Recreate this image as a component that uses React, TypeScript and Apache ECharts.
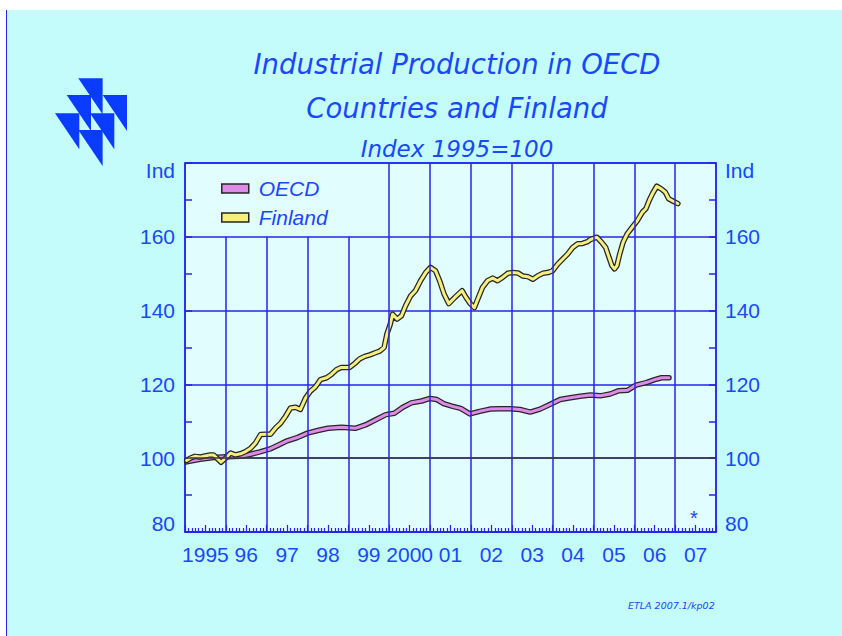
import React, { useEffect, useRef } from "react";
import * as echarts from "echarts";

// ---- data ----
const yearLabels = ["1995", "96", "97", "98", "99", "2000", "01", "02", "03", "04", "05", "06", "07"];
const monthsPerYear = 12;
const yMin = 80;
const yMax = 180;
const yStep = 20;
const refLevel = 100;
const legendBoxUntilMonth = 48;
const legendBoxBottom = 160;

// [months since Jan 1995, index (1995=100)]
const oecd: [number, number][] = [
  [0.5, 99.0], [4.4, 99.7], [8.4, 100.2], [12.3, 100.4], [16.2, 100.5], [19, 101.0], [22, 101.7],
  [25, 102.5], [27.5, 103.6], [30, 104.7], [33, 105.6], [36, 106.8], [39, 107.5], [42, 108.1],
  [46, 108.4], [50, 108.1], [53, 109.0], [56, 110.4], [59, 111.8], [61.5, 112.2], [64, 113.8],
  [66.5, 115.0], [69.5, 115.5], [72, 116.2], [74, 115.9], [76, 114.8], [78.4, 114.1], [81, 113.5],
  [83.7, 112.0], [86.6, 112.7], [89.6, 113.3], [92.5, 113.4], [95.5, 113.4], [98.4, 113.2],
  [101.4, 112.5], [104.3, 113.3], [107.3, 114.6], [110.2, 115.9], [113.2, 116.4], [116.1, 116.8],
  [119.1, 117.1], [122, 116.9], [124.9, 117.4], [127.5, 118.3], [130, 118.4], [132.5, 119.8],
  [135.5, 120.5], [138, 121.3], [140, 121.8], [142.2, 121.8],
];

const finland: [number, number][] = [
  [0.5, 99.4], [1.5, 100], [2.9, 100.5], [4.4, 100.3], [5.9, 100.6], [7.4, 100.9], [8.4, 100.9],
  [9.4, 100.0], [10.6, 98.9], [11.9, 100.0], [13.4, 101.4], [14.8, 100.9], [16.3, 101.2],
  [17.8, 101.8], [19.3, 102.7], [20.7, 104.1], [22.2, 106.4], [23.7, 106.5], [25.1, 106.5],
  [26.6, 108.2], [28.1, 109.5], [29.5, 111.3], [31, 113.6], [32.5, 113.8], [33.9, 113.2],
  [35.4, 116.3], [36.8, 118.1], [38.3, 119.3], [39.8, 121.3], [41.6, 121.8], [43, 122.7],
  [44.5, 124], [45.9, 124.6], [48.4, 124.6], [49.9, 125.7], [51.3, 126.9], [52.8, 127.6],
  [54.3, 128], [55.7, 128.5], [57.2, 129], [58.5, 130], [59.3, 133.6], [60.3, 136.3], [61, 139],
  [62.3, 137.7], [63.6, 138.6], [64.8, 141.3], [66.3, 144], [67.7, 145.4], [69.2, 148.1],
  [70.7, 150.3], [72.1, 151.7], [73.6, 150.8], [74.8, 148.1], [76.1, 144.5], [77.5, 141.9],
  [79.2, 143.5], [81.4, 145.4], [82.6, 143.5], [83.8, 141.9], [85, 140.8], [86, 143.1],
  [87.4, 146.3], [88.9, 148.1], [90.4, 148.8], [91.8, 148.1], [93.3, 149], [94.8, 150.1],
  [96.3, 150.3], [97.8, 150.2], [99.2, 149.4], [100.7, 149.2], [102.2, 148.5], [103.6, 149.4],
  [105.1, 150.1], [106.6, 150.3], [108, 150.8], [109.5, 152.6], [111, 154], [112.4, 155.3],
  [113.9, 157.1], [115.4, 158.1], [116.8, 158.2], [118.3, 158.7], [119, 159.2], [121, 159.9],
  [122.4, 158.5], [123.6, 157.1], [124.4, 154.9], [125.4, 152.2], [126.2, 151.3], [126.9, 152.2],
  [127.7, 155.3], [128.7, 158.5], [129.9, 160.8], [131.4, 162.6], [132.9, 164.4], [134.4, 166.7],
  [135.4, 167.6], [136.4, 169.9], [137.4, 171.8], [138.6, 173.7], [139.9, 173.0], [141.1, 172.1],
  [142.1, 170.3], [143.3, 169.7], [144.8, 169.0],
];

// ---- styles ----
const TEXT_BLUE = "#1848ff";
const LINE_BLUE = "#2424ee";
const OUTER_BG = "#c4fbfb";
const PLOT_BG = "#e2fdfd";
const OECD_COLOR = "#e08ae8";
const FIN_COLOR = "#f6ee7e";
const OUTLINE = "#262626";
const NUM_FONT = "'Liberation Sans', Arial, sans-serif";
const TITLE_FONT = "'DejaVu Sans', sans-serif";

export default function App() {
  const ref = useRef<HTMLDivElement>(null);

  useEffect(() => {
    if (!ref.current) return;
    const chart = echarts.init(ref.current, null, { renderer: "svg" });
    const totalMonths = yearLabels.length * monthsPerYear;

    const verticalGrid = yearLabels.slice(1).map((_, i) => {
      const m = (i + 1) * monthsPerYear;
      const top = m <= legendBoxUntilMonth ? legendBoxBottom : yMax;
      return [{ coord: [m, yMin] }, { coord: [m, top] }];
    });

    const yLabelFormatter = (v: number) => {
      if (v === yMax) return "{top|Ind}";
      if (v === yMin) return "{bot|" + v + "}";
      return String(v);
    };
    const richY = {
      top: { fontSize: 21, color: TEXT_BLUE, fontFamily: NUM_FONT, padding: [14, 0, 0, 0] },
      bot: { fontSize: 21, color: TEXT_BLUE, fontFamily: NUM_FONT, padding: [0, 0, 17, 0] },
    };

    const yAxisBase = {
      type: "value",
      min: yMin,
      max: yMax,
      interval: yStep,
      axisLine: { show: true, lineStyle: { color: LINE_BLUE, width: 1.5 } },
      axisTick: { show: true, inside: true, length: 7, lineStyle: { color: LINE_BLUE, width: 1.5 } },
      minorTick: { show: true, splitNumber: 2, length: 7, lineStyle: { color: LINE_BLUE, width: 1.5 } },
      axisLabel: {
        fontSize: 21,
        color: TEXT_BLUE,
        fontFamily: NUM_FONT,
        formatter: yLabelFormatter,
        rich: richY,
      },
    };

    const triangles = [
      [78.3, 78.3], [66.7, 95], [102.7, 95], [55, 113.3], [90, 113.3], [78.3, 130],
    ].map(([x, y]) => ({
      type: "polygon",
      shape: { points: [[x, y], [x + 24.3, y], [x + 24.3, y + 36]] },
      style: { fill: "#0a3cff" },
    }));

    chart.setOption({
      animation: false,
      backgroundColor: "transparent",
      title: [
        {
          text: "Industrial Production in OECD",
          left: 452,
          top: 45,
          textAlign: "center",
          textStyle: { fontSize: 27.5, fontStyle: "italic", fontWeight: "normal", color: TEXT_BLUE, fontFamily: TITLE_FONT },
        },
        {
          text: "Countries and Finland",
          left: 452,
          top: 89,
          textAlign: "center",
          textStyle: { fontSize: 27.5, fontStyle: "italic", fontWeight: "normal", color: TEXT_BLUE, fontFamily: TITLE_FONT },
        },
        {
          text: "Index 1995=100",
          left: 452,
          top: 132,
          textAlign: "center",
          textStyle: { fontSize: 23, fontStyle: "italic", fontWeight: "normal", color: TEXT_BLUE, fontFamily: TITLE_FONT },
        },
      ],
      legend: {
        data: [
          { name: "OECD", itemStyle: { color: OECD_COLOR, borderColor: OUTLINE, borderWidth: 1.5 } },
          { name: "Finland", itemStyle: { color: FIN_COLOR, borderColor: OUTLINE, borderWidth: 1.5 } },
        ],
        orient: "vertical",
        left: 216,
        top: 173,
        icon: "rect",
        itemWidth: 27,
        itemHeight: 9,
        itemGap: 8,
        textStyle: {
          fontSize: 21,
          lineHeight: 21,
          fontStyle: "italic",
          color: TEXT_BLUE,
          fontFamily: NUM_FONT,
          padding: [0, 0, 0, 5],
        },
      },
      grid: {
        left: 185,
        top: 163,
        width: 531,
        height: 369,
        show: true,
        backgroundColor: PLOT_BG,
        borderColor: LINE_BLUE,
        borderWidth: 1.5,
      },
      xAxis: [
        {
          type: "category",
          data: yearLabels,
          boundaryGap: true,
          position: "bottom",
          axisLine: { show: true, lineStyle: { color: LINE_BLUE, width: 1.5 } },
          axisTick: { show: false },
          splitLine: { show: false },
          axisLabel: { interval: 0, fontSize: 21, color: TEXT_BLUE, fontFamily: NUM_FONT, margin: 12 },
        },
        {
          type: "value",
          min: 0,
          max: totalMonths,
          interval: monthsPerYear / 2,
          position: "bottom",
          axisLine: { show: false },
          axisLabel: { show: false },
          axisTick: { show: true, inside: true, length: 7, lineStyle: { color: LINE_BLUE, width: 1.2 } },
          minorTick: { show: true, splitNumber: 6, length: 4, lineStyle: { color: LINE_BLUE, width: 1.2 } },
          splitLine: { show: false },
        },
      ],
      yAxis: [
        {
          ...yAxisBase,
          position: "left",
          splitLine: { show: true, lineStyle: { color: LINE_BLUE, width: 1.5 } },
          axisLabel: { ...yAxisBase.axisLabel, margin: 10 },
        },
        {
          ...yAxisBase,
          position: "right",
          splitLine: { show: false },
          axisLabel: { ...yAxisBase.axisLabel, margin: 9 },
        },
      ],
      series: [
        {
          name: "grid",
          type: "line",
          xAxisIndex: 1,
          yAxisIndex: 0,
          data: oecd,
          showSymbol: false,
          silent: true,
          lineStyle: { opacity: 0, width: 0 },
          z: 2,
          markLine: {
            silent: true,
            symbol: "none",
            label: { show: false },
            animation: false,
            data: [
              ...verticalGrid.map((d) => d.map((p) => ({ ...p, lineStyle: { color: LINE_BLUE, width: 1.5, type: "solid" } }))),
              { yAxis: refLevel, lineStyle: { color: "#3a3a3a", width: 1.6, type: "solid" } },
            ],
          },
        },
        {
          name: "OECD-outline",
          type: "line",
          xAxisIndex: 1,
          data: oecd,
          showSymbol: false,
          silent: true,
          lineStyle: { color: OUTLINE, width: 5.5, join: "round", cap: "round" },
          z: 3,
        },
        {
          name: "OECD",
          type: "line",
          xAxisIndex: 1,
          data: oecd,
          showSymbol: false,
          color: OECD_COLOR,
          lineStyle: { color: OECD_COLOR, width: 3, join: "round", cap: "round" },
          z: 3,
        },
        {
          name: "Finland-outline",
          type: "line",
          xAxisIndex: 1,
          data: finland,
          showSymbol: false,
          silent: true,
          lineStyle: { color: OUTLINE, width: 5.5, join: "round", cap: "round" },
          z: 3,
        },
        {
          name: "Finland",
          type: "line",
          xAxisIndex: 1,
          data: finland,
          showSymbol: false,
          color: FIN_COLOR,
          lineStyle: { color: FIN_COLOR, width: 3, join: "round", cap: "round" },
          z: 3,
        },
      ],
      graphic: [
        ...triangles,
        {
          type: "text",
          x: 694,
          y: 518,
          style: { text: "*", fill: TEXT_BLUE, fontSize: 20, fontFamily: NUM_FONT, textAlign: "center", textVerticalAlign: "middle" },
        },
        {
          type: "text",
          x: 628,
          y: 605,
          style: {
            text: "ETLA 2007.1/kp02",
            fill: TEXT_BLUE,
            fontSize: 9.5,
            fontStyle: "italic",
            fontFamily: TITLE_FONT,
            textVerticalAlign: "middle",
          },
        },
      ],
    });

    return () => chart.dispose();
  }, []);

  return (
    <div style={{ position: "fixed", left: 0, top: 0, width: 842, height: 636, background: "#ffffff", overflow: "hidden" }}>
      <div
        style={{
          position: "absolute",
          left: 6,
          top: 10,
          width: 836,
          height: 626,
          background: OUTER_BG,
          borderLeft: "1.5px solid " + LINE_BLUE,
          boxSizing: "border-box",
        }}
      />
      <div ref={ref} style={{ position: "absolute", left: 0, top: 0, width: 842, height: 636 }} />
    </div>
  );
}
